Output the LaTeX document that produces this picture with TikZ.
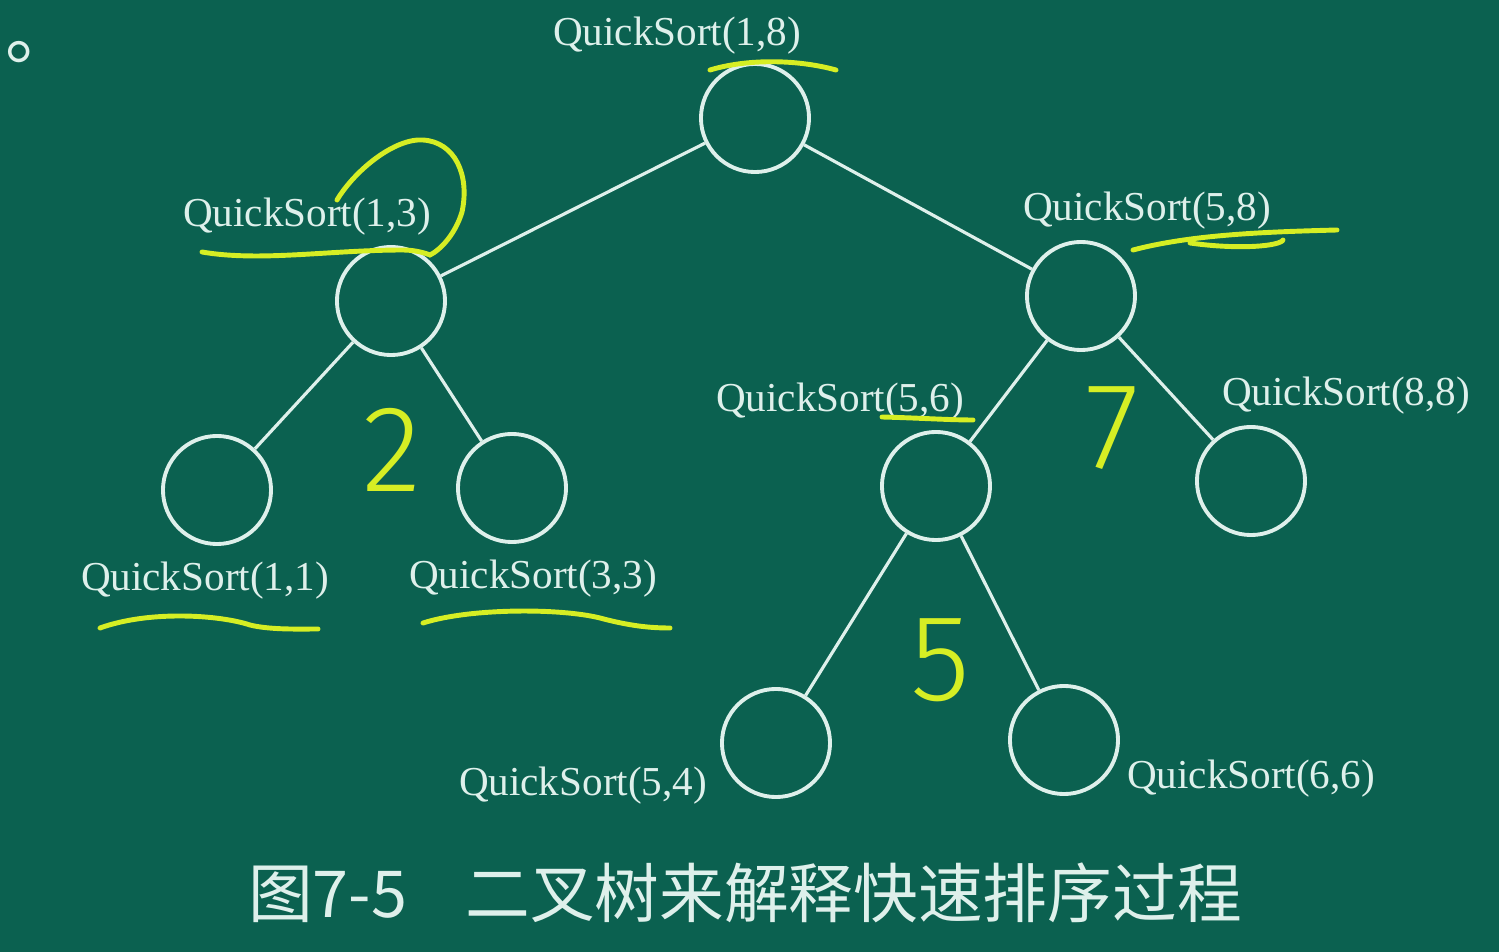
\documentclass[tikz,border=0pt]{standalone}
\usepackage{fontspec}
\setmainfont{Liberation Serif}
\newfontfamily\cjk{Noto Sans CJK SC}
\newfontfamily\hand{Fira Sans Light}
\definecolor{board}{RGB}{11,97,80}
\definecolor{chalk}{RGB}{222,240,235}
\definecolor{marker}{RGB}{214,238,36}
\tikzset{
  vertex/.style={circle,draw=chalk,line width=1.1pt,minimum size=1.08cm,inner sep=0pt},
  branch/.style={draw=chalk,line width=0.9pt},
  call/.style={text=chalk,font=\fontsize{11.7}{14}\selectfont,inner sep=0pt},
  hilite/.style={draw=marker,line width=1.4pt,line cap=round,line join=round},
  scrawl/.style={text=marker,font=\hand\fontsize{35}{40}\selectfont,inner sep=0pt}
}

\begin{document}
\begin{tikzpicture}[x=0.01cm,y=-0.01cm]
      \fill[board] (0,0) rectangle (1499,952);
      \useasboundingbox (0,0) rectangle (1499,952);
      \node (dot) at (5,59) [anchor=base west,inner sep=0pt,text=chalk,font=\cjk\fontsize{20}{24}\selectfont] {。};
      \node (root) at (755,118) [vertex] {};
      \node (n13) at (391,301) [vertex] {};
      \node (n58) at (1081,296) [vertex] {};
      \node (n11) at (217,490) [vertex] {};
      \node (n33) at (512,488) [vertex] {};
      \node (n56) at (936,486) [vertex] {};
      \node (n88) at (1251,481) [vertex] {};
      \node (n54) at (776,743) [vertex] {};
      \node (n66) at (1064,740) [vertex] {};
      \draw [branch](root)--(n13);
      \draw [branch](root)--(n58);
      \draw [branch](n13)--(n11);
      \draw [branch](n13)--(n33);
      \draw [branch](n58)--(n56);
      \draw [branch](n58)--(n88);
      \draw [branch](n56)--(n54);
      \draw [branch](n56)--(n66);
      \node (l18) at (677,36) [call] {QuickSort(1,8)};
      \node (l13) at (307,217) [call] {QuickSort(1,3)};
      \node (l58) at (1147,211) [call] {QuickSort(5,8)};
      \node (l56) at (840,402) [call] {QuickSort(5,6)};
      \node (l88) at (1346,396) [call] {QuickSort(8,8)};
      \node (l11) at (205,581) [call] {QuickSort(1,1)};
      \node (l33) at (533,579) [call] {QuickSort(3,3)};
      \node (l54) at (583,786) [call] {QuickSort(5,4)};
      \node (l66) at (1251,779) [call] {QuickSort(6,6)};
      \node (caption) at (745,893) [text=chalk,font=\cjk\fontsize{18.4}{22}\selectfont] {图7-5\hspace{0.9em}二叉树来解释快速排序过程};
      \draw [hilite] (710,70) .. controls (750,58) and (800,60) .. (836,70);
      \draw [hilite] (202,252) .. controls (260,262) and (330,250) .. (403,250) .. controls (415,250) and (425,253) .. (430,255);
      \draw [hilite] (337,200) .. controls (355,170) and (395,138) .. (423,140) .. controls (455,142) and (470,175) .. (462,212) .. controls (455,235) and (440,250) .. (430,255);
      \draw [hilite] (1133,250) .. controls (1190,235) and (1260,232) .. (1337,230);
      \draw [hilite] (1190,243) .. controls (1240,250) and (1280,246) .. (1283,240);
      \draw [hilite] (882,417) .. controls (920,418) and (950,420) .. (973,420);
      \draw [hilite] (100,628) .. controls (150,610) and (220,615) .. (250,625) .. controls (270,630) and (300,629) .. (318,629);
      \draw [hilite] (423,623) .. controls (470,608) and (560,608) .. (600,618) .. controls (630,626) and (650,628) .. (670,628);
      \node (two) at (392,450) [scrawl] {2};
      \node (seven) at (1112,428) [scrawl] {7};
      \node (five) at (940,660) [scrawl] {5};
    \end{tikzpicture}
\end{document}
